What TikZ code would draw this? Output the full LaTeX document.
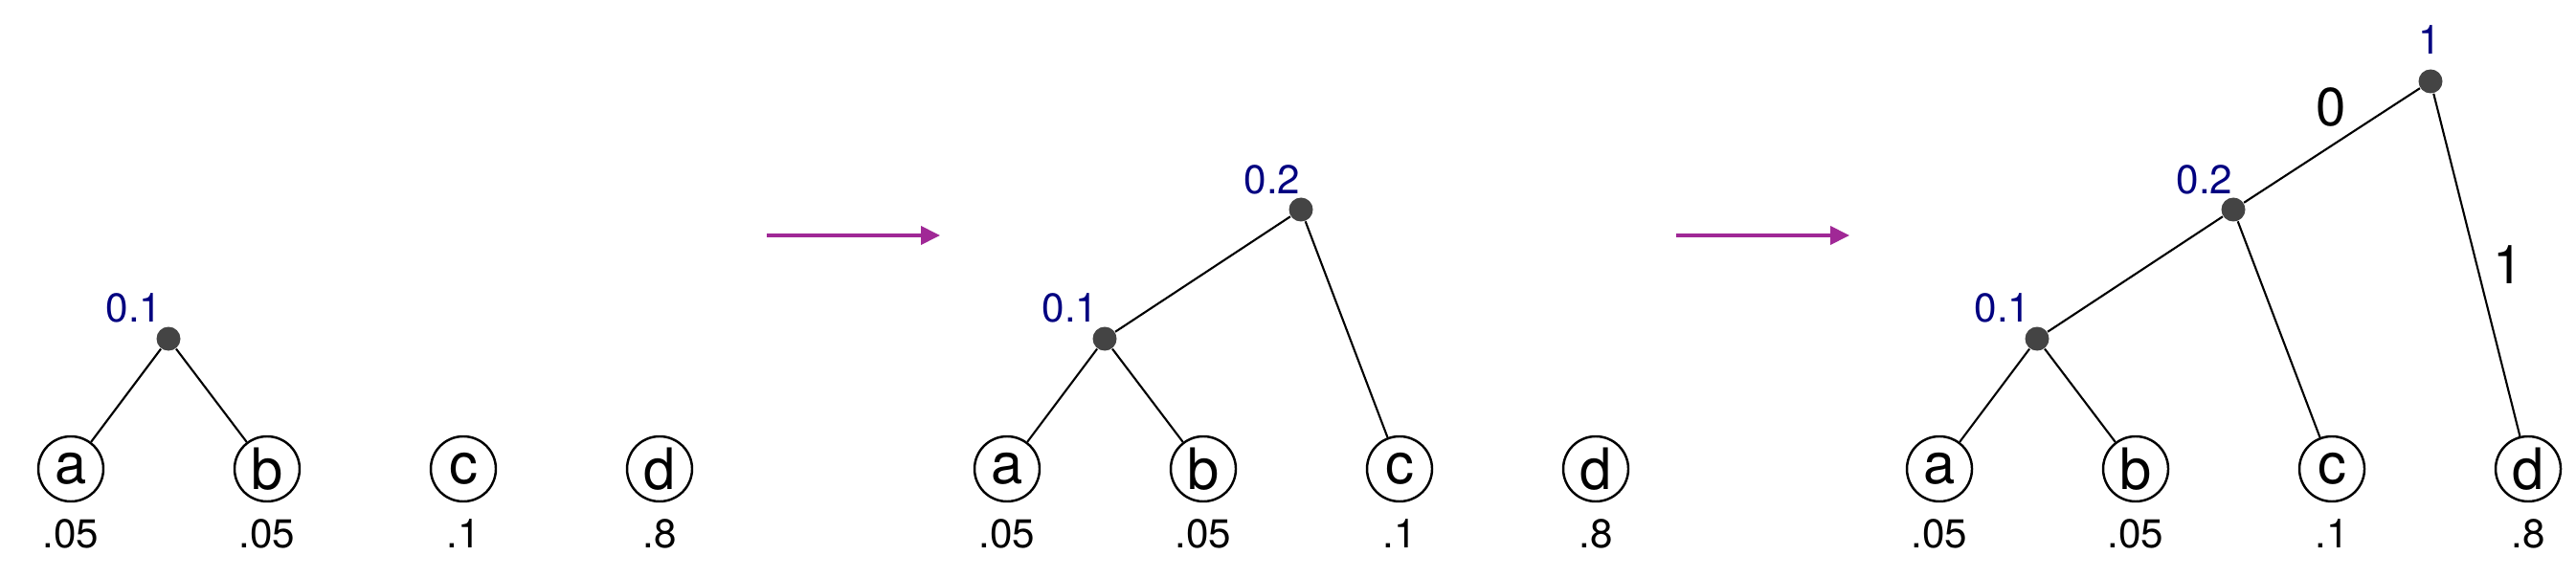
\documentclass[tikz,border=0pt]{standalone}
\usepackage{fontspec}
\setmainfont{TeX Gyre Heros}
\usetikzlibrary{arrows.meta}
\definecolor{probblue}{RGB}{0,0,128}
\definecolor{steppurple}{RGB}{160,40,150}
\definecolor{dotgrey}{RGB}{68,68,68}

\begin{document}
\begin{tikzpicture}[
    leaf/.style={draw, circle, line width=0.7pt, minimum size=0.68cm, inner sep=0pt,
                 font=\fontsize{17}{20}\selectfont},
    weight/.style={font=\fontsize{12}{14}\selectfont},
    inner/.style={circle, fill=dotgrey, minimum size=0.25cm, inner sep=0pt},
    sum/.style={text=probblue, inner sep=0pt, font=\fontsize{12}{14}\selectfont},
    bit/.style={inner sep=0pt, font=\fontsize{16}{19}\selectfont},
    edge/.style={line width=0.6pt},
    merge/.style={-{Triangle[length=0.2cm,width=0.19cm]}, line width=1.1pt, steppurple}
]
            \useasboundingbox (0,0) rectangle (26.91,6.03);
            % first step
            \node[leaf] (a1) at (0.74, 1.13) {a};
            \node[leaf] (b1) at (2.79, 1.13) {b};
            \node[leaf] (c1) at (4.84, 1.13) {c};
            \node[leaf] (d1) at (6.89, 1.13) {d};
            \node[weight] (wa1) at (0.74, 0.45) {.05};
            \node[weight] (wb1) at (2.79, 0.45) {.05};
            \node[weight] (wc1) at (4.84, 0.45) {.1};
            \node[weight] (wd1) at (6.89, 0.45) {.8};
            \node[inner] (ab1) at (1.76, 2.49) {};
            \node[sum, anchor=base east] (sab1) at (1.70, 2.66) {0.1};
            \draw[edge] (ab1) -- (a1);
            \draw[edge] (ab1) -- (b1);
            \draw[merge] (8.01, 3.57) -- (9.82, 3.57);
            % second step
            \node[leaf] (a2) at (10.52, 1.13) {a};
            \node[leaf] (b2) at (12.57, 1.13) {b};
            \node[leaf] (c2) at (14.62, 1.13) {c};
            \node[leaf] (d2) at (16.67, 1.13) {d};
            \node[weight] (wa2) at (10.52, 0.45) {.05};
            \node[weight] (wb2) at (12.57, 0.45) {.05};
            \node[weight] (wc2) at (14.62, 0.45) {.1};
            \node[weight] (wd2) at (16.67, 0.45) {.8};
            \node[inner] (ab2) at (11.54, 2.49) {};
            \node[inner] (abc2) at (13.59, 3.84) {};
            \node[sum, anchor=base east] (sab2) at (11.48, 2.66) {0.1};
            \node[sum, anchor=base east] (sabc2) at (13.59, 4.00) {0.2};
            \draw[edge] (ab2) -- (a2);
            \draw[edge] (ab2) -- (b2);
            \draw[edge] (abc2) -- (ab2);
            \draw[edge] (abc2) -- (c2);
            \draw[merge] (17.51, 3.57) -- (19.32, 3.57);
            % last step
            \node[leaf] (a3) at (20.26, 1.13) {a};
            \node[leaf] (b3) at (22.31, 1.13) {b};
            \node[leaf] (c3) at (24.36, 1.13) {c};
            \node[leaf] (d3) at (26.41, 1.13) {d};
            \node[weight] (wa3) at (20.26, 0.45) {.05};
            \node[weight] (wb3) at (22.31, 0.45) {.05};
            \node[weight] (wc3) at (24.36, 0.45) {.1};
            \node[weight] (wd3) at (26.41, 0.45) {.8};
            \node[inner] (ab3) at (21.28, 2.49) {};
            \node[inner] (abc3) at (23.33, 3.84) {};
            \node[inner] (root3) at (25.39, 5.18) {};
            \node[sum, anchor=base east] (sab3) at (21.22, 2.66) {0.1};
            \node[sum, anchor=base east] (sabc3) at (23.33, 4.00) {0.2};
            \node[sum, anchor=base] (sroot3) at (25.38, 5.46) {1};
            \draw[edge] (ab3) -- (a3);
            \draw[edge] (ab3) -- (b3);
            \draw[edge] (abc3) -- (ab3);
            \draw[edge] (abc3) -- (c3);
            \draw[edge] (root3) -- (abc3);
            \draw[edge] (root3) -- (d3);
            \node[bit] (zero) at (24.35, 4.91) {0};
            \node[bit] (one) at (26.20, 3.26) {1};
        \end{tikzpicture}
\end{document}
